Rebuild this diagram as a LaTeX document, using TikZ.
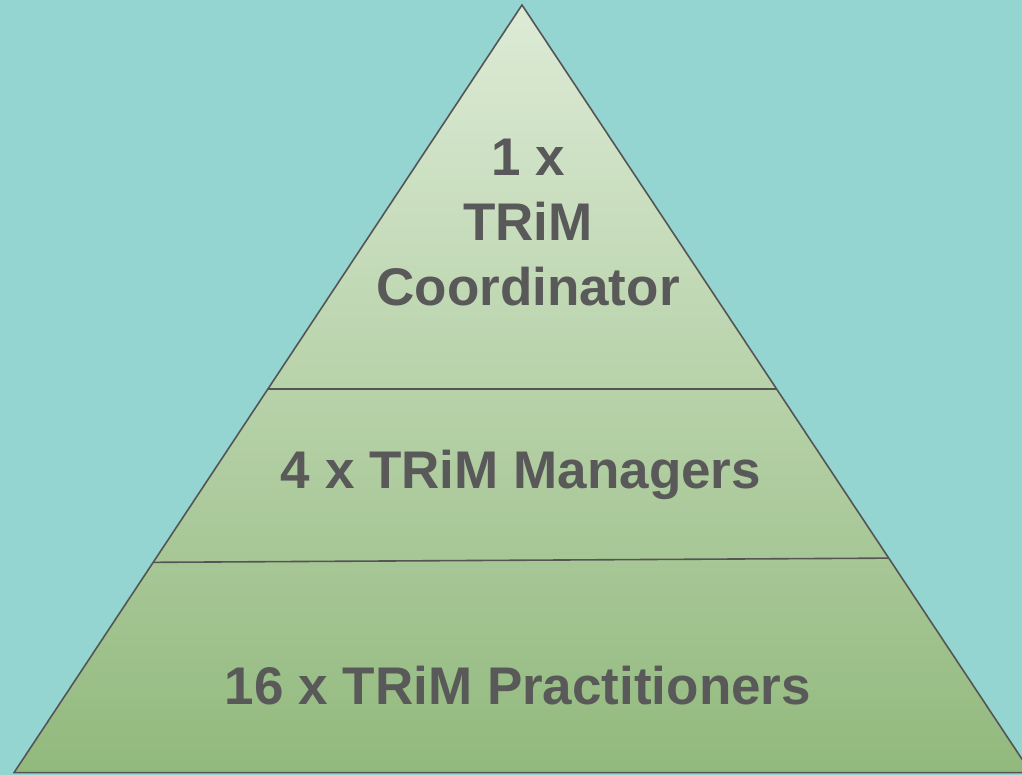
\documentclass[tikz,border=0pt]{standalone}
\usepackage{fontspec}
\setmainfont{Liberation Sans}
\usetikzlibrary{calc}
\definecolor{bgteal}{RGB}{148,213,209}
\definecolor{pyrtop}{RGB}{221,235,214}
\definecolor{pyrbottom}{RGB}{146,185,125}
\definecolor{edgegray}{RGB}{85,85,85}
\definecolor{textgray}{RGB}{89,89,89}
\begin{document}
\begin{tikzpicture}[x=1pt,y=1pt,
  outline/.style={draw=edgegray,line width=1.6pt,line join=miter},
  tierlabel/.style={inner sep=0pt,text=textgray,align=center,
    font=\fontsize{53}{65}\selectfont\bfseries}]
  % canvas
  \fill[bgteal] (0,0) rectangle (1022,775);
  \useasboundingbox (0,0) rectangle (1022,775);
  \clip (0,0) rectangle (1022,775);
  % corners of the pyramid
  \coordinate (apex) at (522,770);
  \coordinate (bl) at (14,2.3);
  \coordinate (br) at (1031,2.3);
  % shaded body
  \shade[top color=pyrtop,bottom color=pyrbottom] (apex) -- (bl) -- (br) -- cycle;
  % tier dividers
  \coordinate (d1l) at ($(apex)!0.5!(bl)$);
  \coordinate (d1r) at ($(apex)!0.5!(br)$);
  \coordinate (d2l) at ($(apex)!0.726!(bl)$);
  \coordinate (d2r) at ($(apex)!0.7205!(br)$);
  \draw[outline] (d1l) -- (d1r);
  \draw[outline] (d2l) -- (d2r);
  \draw[outline] (apex) -- (bl) -- (br) -- cycle;
  % labels
  \node[tierlabel] (coord) at (528,552) {1 x\\TRiM\\Coordinator};
  \node[tierlabel,anchor=base] (mgr) at (521,286) {4 x TRiM Managers};
  \node[tierlabel,anchor=base] (prac) at (518,70) {16 x TRiM Practitioners};
\end{tikzpicture}
\end{document}
